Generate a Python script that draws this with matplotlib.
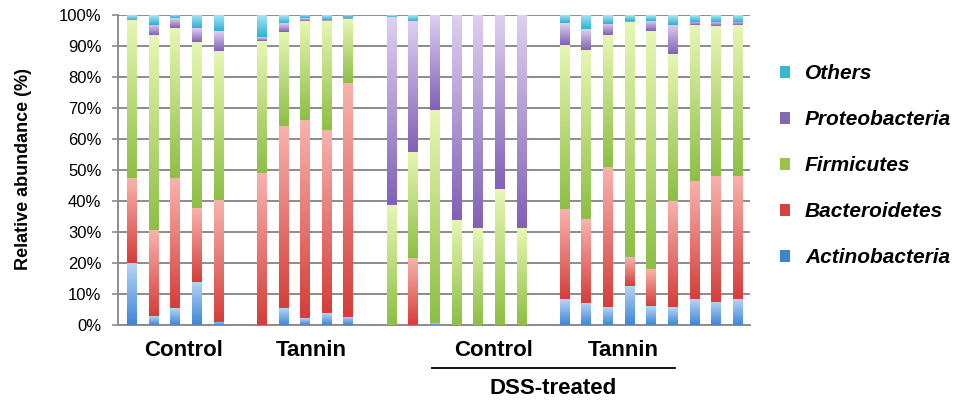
import numpy as np
import matplotlib.pyplot as plt
from matplotlib.colors import LinearSegmentedColormap
from matplotlib.patches import Patch
from matplotlib.transforms import blended_transform_factory

plt.rcParams['font.family'] = ['Liberation Sans', 'DejaVu Sans']

# DATA (percent per sample)
phyla = ['Actinobacteria', 'Bacteroidetes', 'Firmicutes', 'Proteobacteria', 'Others']
group_sizes = [5, 5, 7, 9]   # Control, Tannin, DSS Control, DSS Tannin

actino = [20.0, 2.9, 5.4, 14.0, 1.1,
          0.0, 5.4, 2.2, 3.8, 2.7,
          0.0, 0.0, 0.6, 0.0, 0.0, 0.0, 0.0,
          8.3, 7.2, 5.7, 12.6, 6.1, 5.7, 8.3, 7.5, 8.3]
bactero = [27.3, 27.7, 41.9, 23.6, 39.2,
           48.9, 58.8, 63.9, 59.1, 75.5,
           0.0, 21.5, 0.0, 0.0, 0.0, 0.0, 0.0,
           29.0, 26.9, 45.2, 9.2, 11.9, 34.4, 38.3, 40.6, 39.8]
firmic = [51.1, 62.9, 48.6, 53.8, 48.1,
          42.8, 30.4, 32.1, 35.3, 20.5,
          38.7, 34.4, 68.8, 33.9, 31.2, 43.8, 31.2,
          53.0, 54.6, 42.6, 76.0, 76.8, 47.2, 50.2, 48.4, 48.7]
proteo = [0.0, 3.3, 3.0, 4.3, 6.4,
          1.1, 2.9, 0.7, 0.3, 0.2,
          60.8, 42.3, 30.6, 66.1, 68.8, 56.2, 68.8,
          7.0, 6.7, 3.6, 0.3, 3.4, 9.5, 1.0, 1.3, 1.0]
others = [1.6, 3.2, 1.1, 4.3, 5.2,
          7.2, 2.5, 1.1, 1.5, 1.1,
          0.5, 1.8, 0.0, 0.0, 0.0, 0.0, 0.0,
          2.7, 4.6, 2.9, 1.9, 1.8, 3.2, 2.2, 2.2, 2.2]

series = [actino, bactero, firmic, proteo, others]

# gradient colours (bottom, top) and legend colours
grad = [('#3f86d6', '#b6d5f5'),
        ('#d53e3a', '#f8b3ad'),
        ('#8dbf45', '#e8f6b4'),
        ('#8261b6', '#ddd0f1'),
        ('#2fb0d2', '#ace7f5')]
legend_cols = ['#3d85cf', '#d6423b', '#9dc24c', '#8467b0', '#3cb6cf']

# x positions: one empty slot between groups
pos = []
start = 0
for n in group_sizes:
    pos.extend(range(start, start + n))
    start += n + 1
pos = np.array(pos, dtype=float)

fig = plt.figure(figsize=(9.63, 4.0), dpi=100)
ax = fig.add_axes([118 / 963, 1 - 325 / 400, (750 - 118) / 963, 310 / 400])

width = 0.46
bottom = np.zeros(len(pos))
gvals = np.linspace(0, 1, 64).reshape(-1, 1)
for vals, (c0, c1) in zip(series, grad):
    vals = np.array(vals)
    bars = ax.bar(pos, vals, width, bottom=bottom, color='none', linewidth=0, zorder=3)
    cmap = LinearSegmentedColormap.from_list('g', [c0, c1])
    for b in bars:
        if b.get_height() <= 0:
            continue
        x0, y0 = b.get_x(), b.get_y()
        ax.imshow(gvals, cmap=cmap, origin='lower', aspect='auto', zorder=3,
                  extent=(x0, x0 + b.get_width(), y0, y0 + b.get_height()))
    bottom += vals

ax.set_xlim(-0.65, 28.56)
ax.set_ylim(0, 100)
ax.set_yticks(np.arange(0, 101, 10))
ax.set_yticklabels([f'{v}%' for v in range(0, 101, 10)])
ax.set_xticks([])
ax.grid(axis='y', color='#8c8c8c', linewidth=1.4, zorder=0)
ax.set_axisbelow(True)
for s in ['top', 'right']:
    ax.spines[s].set_visible(False)
for s in ['left', 'bottom']:
    ax.spines[s].set_color('#8c8c8c')
    ax.spines[s].set_linewidth(1.4)
ax.tick_params(axis='y', length=4, width=1.2, color='#8c8c8c', labelsize=12, pad=8)
ax.set_ylabel('Relative abundance (%)', fontsize=13, fontweight='bold')
ax.yaxis.set_label_coords(-0.136, 0.503)

# group labels below the axis
tr = blended_transform_factory(ax.transData, fig.transFigure)
lab_font = dict(fontsize=16, fontweight='bold', ha='center', va='center')
ax.text(2.4, 1 - 351 / 400, 'Control', transform=tr, **lab_font)
ax.text(8.27, 1 - 351 / 400, 'Tannin', transform=tr, **lab_font)
ax.text(16.7, 1 - 351 / 400, 'Control', transform=tr, **lab_font)
ax.text(22.7, 1 - 351 / 400, 'Tannin', transform=tr, **lab_font)
ax.plot([13.86, 25.1], [1 - 368 / 400] * 2, transform=tr, color='black', lw=1.3, clip_on=False)
ax.text(19.45, 1 - 388 / 400, 'DSS-treated', transform=tr, **lab_font)

handles = [Patch(facecolor=c, edgecolor='none') for c in legend_cols][::-1]
fig.legend(handles, phyla[::-1], loc='upper left', bbox_to_anchor=(780 / 963, 1 - 64 / 400),
           frameon=False, prop=dict(weight='bold', style='italic', size=15),
           handlelength=0.5, handleheight=0.5, handletextpad=0.7, labelspacing=1.3,
           borderpad=0, borderaxespad=0)

fig.savefig('out.png', dpi=100)
